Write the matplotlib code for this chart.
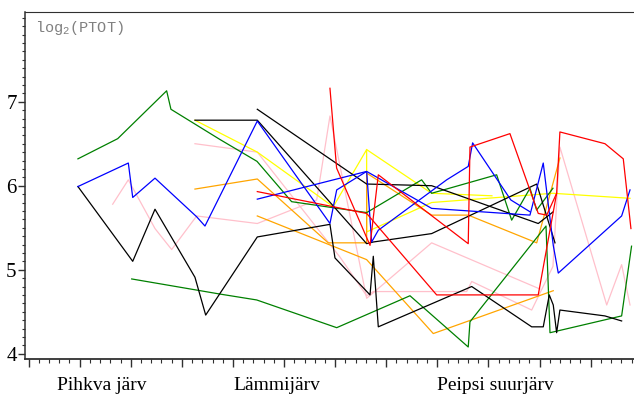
import matplotlib.pyplot as plt
import matplotlib.ticker as ticker
import matplotlib.transforms as transforms

# Station positions along the lake profile (x) and log2(PTOT) values (y).
green1_x = [4.83, 8.72, 13.51, 13.93, 18.73, 22.35, 25.74, 33.08, 38.46, 39.44, 45.80, 47.27, 49.06, 49.71, 51.31]
green1_y = [6.32, 6.56, 7.13, 6.91, 6.55, 6.29, 5.81, 5.68, 6.07, 5.91, 6.13, 5.59, 5.97, 5.71, 5.97]
green2_x = [10.09, 18.73, 22.32, 30.15, 37.32, 43.02, 43.19, 50.63, 51.02, 58.03, 59.0]
green2_y = [4.89, 4.71, 4.64, 4.31, 4.69, 4.08, 4.38, 5.52, 4.25, 4.45, 5.28]

black1_x = [4.83, 10.19, 12.37, 16.28, 17.33, 22.38, 29.49, 29.98, 33.41, 33.73, 34.22, 43.36, 49.23, 50.36, 50.95, 51.34, 51.67, 51.99, 56.39, 58.03]
black1_y = [5.99, 5.10, 5.72, 4.91, 4.46, 5.39, 5.54, 5.14, 4.70, 5.16, 4.32, 4.80, 4.32, 4.32, 4.70, 4.58, 4.25, 4.52, 4.45, 4.39]
black2_x = [22.38, 33.08, 39.44, 49.87, 51.34]
black2_y = [6.91, 6.02, 6.00, 5.55, 5.69]
black3_x = [16.28, 22.38, 33.08, 33.73, 39.44, 49.72, 51.51]
black3_y = [6.78, 6.78, 5.31, 5.33, 5.43, 6.02, 5.32]

pink1_x = [8.23, 9.76, 12.37, 14.00, 16.45, 22.38, 28.19, 29.49, 33.08, 34.06, 39.44, 50.04]
pink1_y = [5.78, 6.07, 5.49, 5.24, 5.64, 5.55, 5.83, 6.83, 4.66, 4.76, 5.32, 4.77]
pink2_x = [16.28, 22.38, 30.47, 33.08, 33.73, 42.87, 43.36, 49.23, 51.31, 51.99, 56.57, 58.03, 58.85]
pink2_y = [6.50, 6.40, 5.15, 4.69, 4.74, 4.74, 4.86, 4.52, 5.04, 6.46, 4.58, 5.06, 4.58]

yellow1_x = [16.28, 22.38, 29.81, 33.08, 33.08, 39.44, 51.31, 58.85]
yellow1_y = [6.78, 6.40, 5.75, 6.43, 5.45, 5.80, 5.91, 5.85]
yellow2_x = [33.08, 39.44, 45.34]
yellow2_y = [6.43, 5.91, 5.88]

orange1_x = [16.28, 22.38, 29.32, 33.08, 33.08, 39.44, 43.02, 49.72, 51.99]
orange1_y = [5.96, 6.08, 5.32, 5.32, 6.15, 5.65, 5.65, 5.32, 6.33]
orange2_x = [22.38, 33.08, 39.60, 51.34]
orange2_y = [5.64, 5.12, 4.24, 4.75]

red1_x = [22.38, 29.81, 33.08, 39.93, 49.87, 51.67, 51.99, 56.40, 58.19, 58.94]
red1_y = [5.93, 5.75, 5.67, 4.70, 4.70, 5.91, 6.64, 6.50, 6.32, 5.49]
red2_x = [29.49, 30.14, 33.41, 34.22, 43.02, 43.19, 47.10, 49.87, 50.70, 51.67]
red2_y = [7.16, 6.21, 5.29, 6.13, 5.31, 6.46, 6.62, 5.67, 5.65, 5.91]

blue1_x = [4.83, 9.76, 10.19, 12.37, 16.45, 17.26, 22.38, 29.49, 30.15, 33.08, 38.30, 39.44, 49.06, 50.36, 51.34, 51.83, 58.03, 58.85]
blue1_y = [5.99, 6.27, 5.86, 6.09, 5.63, 5.52, 6.77, 5.55, 5.95, 6.17, 5.81, 5.73, 5.65, 6.27, 5.29, 4.96, 5.64, 5.95]
blue2_x = [22.38, 33.08, 33.57, 34.22, 40.91, 43.02, 43.45, 47.19, 49.06]
blue2_y = [5.84, 6.17, 5.33, 5.47, 6.07, 6.23, 6.51, 5.83, 5.69]

lake_names = ["Pihkva järv", "Lämmijärv", "Peipsi suurjärv"]
lake_pos = [7.2, 24.3, 45.7]


def main():
  fig = plt.figure(figsize=(6.34, 3.96), dpi=100)
  ax = fig.add_axes([25 / 634, 37.5 / 396, 609 / 634, 346.5 / 396])

  series = [
    ("#ffc0cb", pink1_x, pink1_y), ("#ffc0cb", pink2_x, pink2_y),
    ("#ffff00", yellow1_x, yellow1_y), ("#ffff00", yellow2_x, yellow2_y),
    ("#ffa500", orange1_x, orange1_y), ("#ffa500", orange2_x, orange2_y),
    ("#008000", green1_x, green1_y), ("#008000", green2_x, green2_y),
    ("#000000", black1_x, black1_y), ("#000000", black2_x, black2_y),
    ("#000000", black3_x, black3_y),
    ("#0000ff", blue1_x, blue1_y), ("#0000ff", blue2_x, blue2_y),
    ("#ff0000", red1_x, red1_y), ("#ff0000", red2_x, red2_y),
  ]
  for color, xs, ys in series:
    ax.plot(xs, ys, color=color, linewidth=0.9)

  # Axes styling.
  ax.set_xlim(-0.35, 59.24)
  ax.set_ylim(3.943, 8.068)
  ax.spines["right"].set_visible(False)
  for side in ["left", "bottom", "top"]:
    ax.spines[side].set_color("#303030")
  ax.spines["left"].set_linewidth(1.1)
  ax.spines["bottom"].set_linewidth(1.3)
  ax.spines["top"].set_linewidth(0.8)

  ax.xaxis.set_major_locator(ticker.MultipleLocator(5))
  ax.xaxis.set_minor_locator(ticker.MultipleLocator(1))
  ax.yaxis.set_major_locator(ticker.FixedLocator([4, 5, 6, 7]))
  ax.yaxis.set_minor_locator(ticker.MultipleLocator(0.1))
  ax.tick_params(axis="x", which="major", length=6, width=1, labelbottom=False, color="#303030")
  ax.tick_params(axis="x", which="minor", length=3, width=0.8, color="#303030")
  ax.tick_params(axis="y", which="major", length=5, width=1, pad=1, color="#303030")
  ax.tick_params(axis="y", which="minor", length=2.5, width=0.8, color="#303030")
  for label in ax.get_yticklabels():
    label.set_fontfamily("Liberation Serif")
    label.set_fontsize(15)

  trans = transforms.blended_transform_factory(ax.transData, ax.transAxes)
  for name, pos in zip(lake_names, lake_pos):
    ax.text(pos, -0.079, name, transform=trans, ha="center", va="center",
            fontfamily="Liberation Serif", fontsize=14)

  ax.text(0.016, 0.98, r"log$_{\mathregular{2}}$(PTOT)", transform=ax.transAxes,
          ha="left", va="top", color="#808080", fontfamily="Liberation Mono", fontsize=11)

  fig.savefig("out.png", dpi=100)


if __name__ == "__main__":
  main()
